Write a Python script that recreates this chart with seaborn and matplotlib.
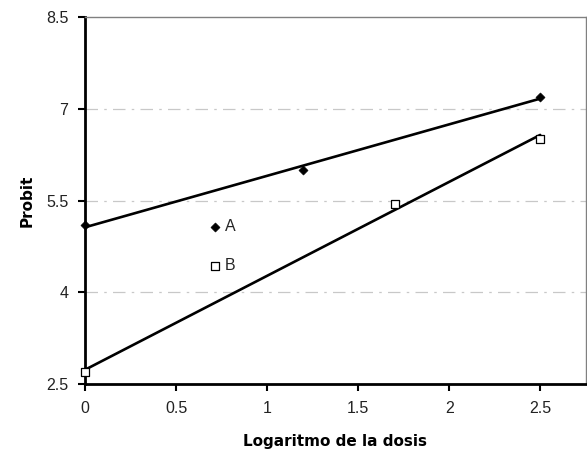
import numpy as np
import pandas as pd
import matplotlib
matplotlib.use("Agg")
import matplotlib.pyplot as plt
import seaborn as sns

# data
dose_a = [0.0, 1.2, 2.5]
probit_a = [5.1, 6.0, 7.2]
dose_b = [0.0, 1.7, 2.5]
probit_b = [2.7, 5.45, 6.5]
x_ticks = [0, 0.5, 1, 1.5, 2, 2.5]
x_tick_labels = ["0", "0.5", "1", "1.5", "2", "2.5"]
y_ticks = [2.5, 4, 5.5, 7, 8.5]
y_tick_labels = ["2.5", "4", "5.5", "7", "8.5"]

sns.set_style("white")
plt.rcParams['font.family'] = ['Liberation Sans', 'DejaVu Sans']

fig = plt.figure(figsize=(5.87, 4.54), dpi=100, facecolor='white')
ax = fig.add_axes([0.1448, 0.154, 0.853, 0.8086])

# trendlines (least squares)
sns.regplot(x=dose_a, y=probit_a, ci=None, scatter=False, ax=ax,
            line_kws={'color': 'black', 'linewidth': 1.9})
sns.regplot(x=dose_b, y=probit_b, ci=None, scatter=False, ax=ax,
            line_kws={'color': 'black', 'linewidth': 1.9})

sns.scatterplot(x=dose_a, y=probit_a, ax=ax, marker='D', s=22,
                color='black', edgecolor='black', label='A', zorder=5,
                clip_on=False)
sns.scatterplot(x=dose_b, y=probit_b, ax=ax, marker='s', s=26,
                facecolor='white', edgecolor='black', linewidth=0.9,
                label='B', zorder=5, clip_on=False)

ax.set_xlim(0, 2.75)
ax.set_ylim(2.5, 8.5)
ax.set_xticks(x_ticks)
ax.set_xticklabels(x_tick_labels)
ax.set_yticks(y_ticks)
ax.set_yticklabels(y_tick_labels)

for yv in y_ticks[1:-1]:
    ax.axhline(yv, color='#c8c8c8', linewidth=0.9,
               linestyle=(0, (10, 5, 2, 5)), zorder=0)

ax.tick_params(axis='both', direction='out', length=5, width=1.5,
               colors='black', labelsize=11.5, labelcolor='#222222',
               bottom=True, left=True, pad=7)
ax.spines['left'].set_color('black')
ax.spines['left'].set_linewidth(2)
ax.spines['bottom'].set_color('black')
ax.spines['bottom'].set_linewidth(2)
ax.spines['top'].set_color('#808080')
ax.spines['top'].set_linewidth(1)
ax.spines['right'].set_color('#808080')
ax.spines['right'].set_linewidth(1)

ax.set_xlabel("Logaritmo de la dosis", fontsize=11, fontweight='bold',
              family='DejaVu Sans', color='black', labelpad=13)
ax.set_ylabel("Probit", fontsize=11, fontweight='bold',
              family='DejaVu Sans', color='black', labelpad=8)

ax.legend(loc='upper left', bbox_to_anchor=(0.235, 0.472), frameon=False,
          fontsize=11.5, handlelength=0.6, handletextpad=0.3,
          labelspacing=1.5, borderpad=0)

fig.savefig("out.png", dpi=100, facecolor='white')
